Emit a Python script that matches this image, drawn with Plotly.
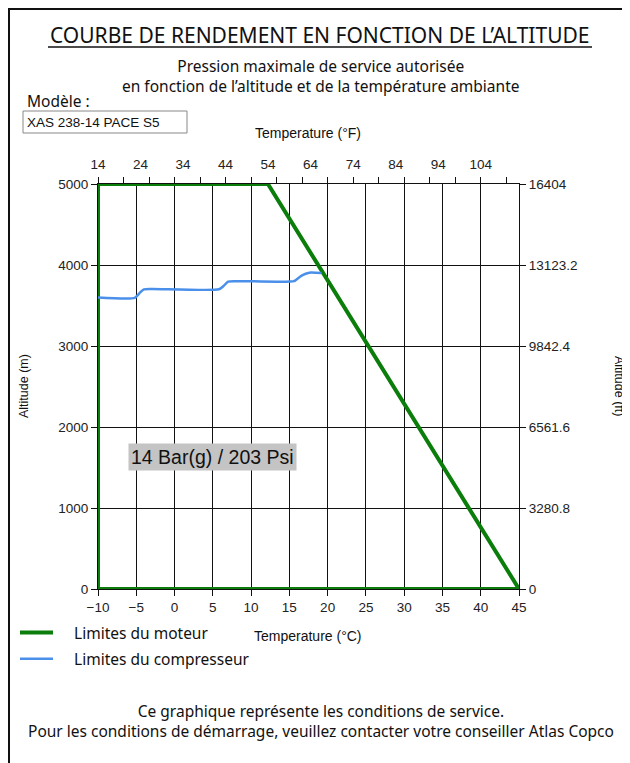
import plotly.graph_objects as go

# ---------------- data ----------------
engine_temp_c = [-10, -10, 12.2, 45, -10]
engine_alt_m = [0, 5000, 5000, 0, 0]

comp_temp_c = [-10, -5.2, -4.6, -4.0, -3.0, 5.8, 6.4, 7.0, 8.0, 15.0, 15.6, 16.6, 17.6, 19.2]
comp_alt_m = [3600, 3595, 3650, 3700, 3705, 3700, 3740, 3795, 3800, 3795, 3800, 3870, 3905, 3900]

temp_c_ticks = [-10, -5, 0, 5, 10, 15, 20, 25, 30, 35, 40, 45]
temp_f_labels = [14, 24, 34, 44, 54, 64, 74, 84, 94, 104]
temp_f_minor = [14, 20, 26, 32, 38, 44, 50, 56, 62, 68, 74, 80, 86, 92, 98, 104, 110]
alt_m_ticks = [0, 1000, 2000, 3000, 4000, 5000]
alt_ft_ticks = [0, 3280.8, 6561.6, 9842.4, 13123.2, 16404]
alt_ft_labels = ["0", "3280.8", "6561.6", "9842.4", "13123.2", "16404"]

# page has an 8px body margin: figure is sized to fit the window exactly
OFF = 8
W, H = 630 - OFF, 763 - OFF
def px(x):
    return (x - OFF) / W
def py(y):
    return 1 - (y - OFF) / H

NARROW = "Liberation Sans Narrow, Arial Narrow, Liberation Sans, Arial"
SANS = "Noto Sans, Open Sans, DejaVu Sans"
NB = "\u00a0" * 4

fig = go.Figure()
fig.add_trace(go.Scatter(
    x=engine_temp_c, y=engine_alt_m, mode="lines", name=NB + "Limites du moteur",
    line=dict(color="#0a7d0a", width=4), legendgroup="a", hoverinfo="skip"))
fig.add_trace(go.Scatter(
    x=comp_temp_c, y=comp_alt_m, mode="lines", name=NB + "Limites du compresseur",
    line=dict(color="#4a90ea", width=2.5, shape="spline", smoothing=0.6),
    legendgroup="b", hoverinfo="skip"))
# secondary axes (°F / ft) carry the same engine limit converted
fig.add_trace(go.Scatter(
    x=[c * 9 / 5 + 32 for c in engine_temp_c], y=[m * 3.2808 for m in engine_alt_m],
    xaxis="x2", yaxis="y2", mode="lines", line=dict(width=0, color="rgba(0,0,0,0)"),
    showlegend=False, hoverinfo="skip"))

xd = [px(98), px(519)]
yd = [py(589), py(184)]

tickfont = dict(family=NARROW, size=13.5, color="#222")
fig.update_layout(
    width=W, height=H, margin=dict(l=0, r=0, t=0, b=0, autoexpand=False),
    paper_bgcolor="white", plot_bgcolor="white",
    xaxis=dict(domain=xd, range=[-10, 45], tickmode="array", tickvals=temp_c_ticks,
               showgrid=True, gridcolor="#111", gridwidth=1, zeroline=False,
               showline=True, linecolor="#111", linewidth=1, automargin=False,
               ticks="outside", ticklen=6, tickcolor="#111", tickfont=tickfont),
    yaxis=dict(domain=yd, range=[0, 5000], tickmode="array", tickvals=alt_m_ticks,
               showgrid=True, gridcolor="#111", gridwidth=1, zeroline=False,
               showline=True, linecolor="#111", linewidth=1, automargin=False,
               ticks="outside", ticklen=6, tickcolor="#111", tickfont=tickfont),
    xaxis2=dict(overlaying="x", side="top", anchor="y", range=[14, 113],
                tickmode="array", tickvals=temp_f_labels, ticks="", ticklabelstandoff=9,
                showgrid=False, zeroline=False, showline=True, linecolor="#111",
                linewidth=1, tickfont=tickfont, automargin=False,
                minor=dict(tickmode="array", tickvals=temp_f_minor, ticks="outside",
                           ticklen=6, tickcolor="#111", showgrid=False)),
    yaxis2=dict(overlaying="y", side="right", anchor="x", range=[0, 16404],
                tickmode="array", tickvals=alt_ft_ticks, ticktext=alt_ft_labels,
                showgrid=False, zeroline=False, showline=True, linecolor="#111",
                linewidth=1, ticks="outside", ticklen=6, tickcolor="#111",
                tickfont=tickfont, automargin=False),
    showlegend=True,
    legend=dict(x=px(15), y=py(616), xanchor="left", yanchor="top",
                font=dict(family=SANS, size=15.5, color="#111"),
                bgcolor="rgba(0,0,0,0)", itemwidth=33, tracegroupgap=3,
                traceorder="grouped"),
)

ann = []
def add_text(text, x, y, size, family=SANS, xanchor="center", angle=0, **kw):
    ann.append(dict(text=text, x=px(x), y=py(y), xref="paper", yref="paper",
                    showarrow=False, xanchor=xanchor, yanchor="middle",
                    textangle=angle, font=dict(family=family, size=size, color="#111"), **kw))

add_text("COURBE DE RENDEMENT EN FONCTION DE L\u2019ALTITUDE", 320, 35, 21)
add_text("Pression maximale de service autorisée<br>"
         "en fonction de l\u2019altitude et de la température ambiante", 320, 75.5, 15.5)
add_text("Modèle :", 25, 101, 15.5, xanchor="left")
add_text("XAS 238-14 PACE S5", 25, 122, 13.5, family=NARROW, xanchor="left")
add_text("Temperature (°F)", 308, 133, 14, family=NARROW)
add_text("Temperature (°C)", 308, 636, 14, family=NARROW)
add_text("Altitude (m)", 24, 386, 12.5, family=NARROW, angle=-90)
add_text("Altitude (ft)", 619, 386, 12.5, family=NARROW, angle=90)
add_text("14 Bar(g) / 203 Psi", 212, 457, 19.5, family="Liberation Sans, Arial",
         bgcolor="#c4c4c4", borderpad=2)
add_text("Ce graphique représente les conditions de service.<br>"
         "Pour les conditions de démarrage, veuillez contacter votre conseiller Atlas Copco",
         321, 720.5, 15.5)
fig.update_layout(annotations=ann)

shapes = [
    dict(type="line", xref="paper", yref="paper", x0=px(48), x1=px(592), y0=py(47), y1=py(47),
         line=dict(color="#111", width=1.5)),
    dict(type="rect", xref="paper", yref="paper", x0=px(23), x1=px(187), y0=py(111), y1=py(133),
         line=dict(color="#888", width=1)),
    dict(type="line", xref="paper", yref="paper", x0=px(9), x1=px(9), y0=py(8), y1=py(763),
         line=dict(color="#111", width=2)),
    dict(type="line", xref="paper", yref="paper", x0=px(8), x1=px(630), y0=py(9), y1=py(9),
         line=dict(color="#111", width=2)),
]
fig.update_layout(shapes=shapes)

fig.write_html("out.html")
